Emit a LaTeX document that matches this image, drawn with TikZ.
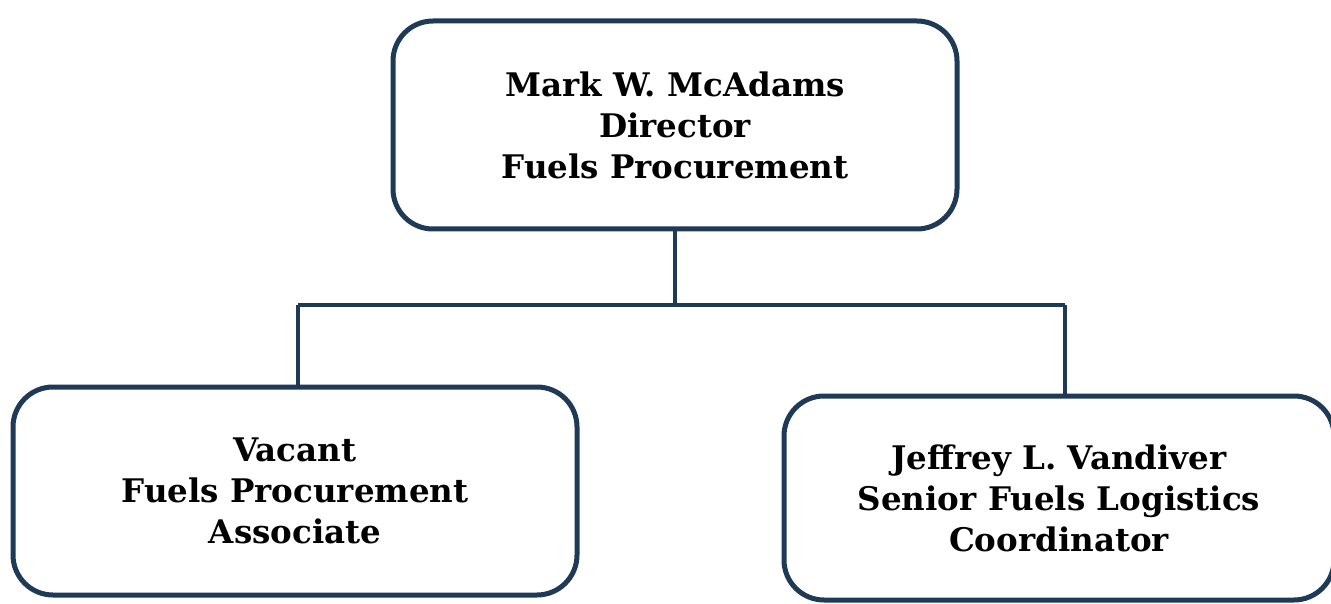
\documentclass[tikz,border=0pt]{standalone}
\usepackage{fontspec}
\setmainfont{DejaVu Serif}
\definecolor{lineblue}{HTML}{1E3A56}
\begin{document}
\begin{tikzpicture}[x=1pt,y=-1pt,
  orgbox/.style={draw=lineblue, line width=5pt, rounded corners=40pt, fill=white,
    align=center, inner sep=0pt, font=\fontsize{32.5}{41}\selectfont\bfseries, text=black},
  link/.style={draw=lineblue, line width=4.5pt}]
\useasboundingbox (0,0) rectangle (1331,604);
\node[orgbox, minimum width=564pt, minimum height=208pt] (top) at (675,125)
  {Mark W. McAdams\\Director\\Fuels Procurement};
\node[orgbox, minimum width=564pt, minimum height=208pt] (left) at (295,491)
  {Vacant\\Fuels Procurement\\Associate};
\node[orgbox, minimum width=550pt, minimum height=204pt] (right) at (1059,498)
  {Jeffrey L. Vandiver\\Senior Fuels Logistics\\Coordinator};
\coordinate (cmid) at (675,305);
\coordinate (cl) at (298,305);
\coordinate (cr) at (1065,305);
\draw[link] (top.south) -- (cmid);
\draw[link] (cl) -- (cr);
\draw[link] (cl) -- (cl |- left.north);
\draw[link] (cr) -- (cr |- right.north);
\end{tikzpicture}
\end{document}
